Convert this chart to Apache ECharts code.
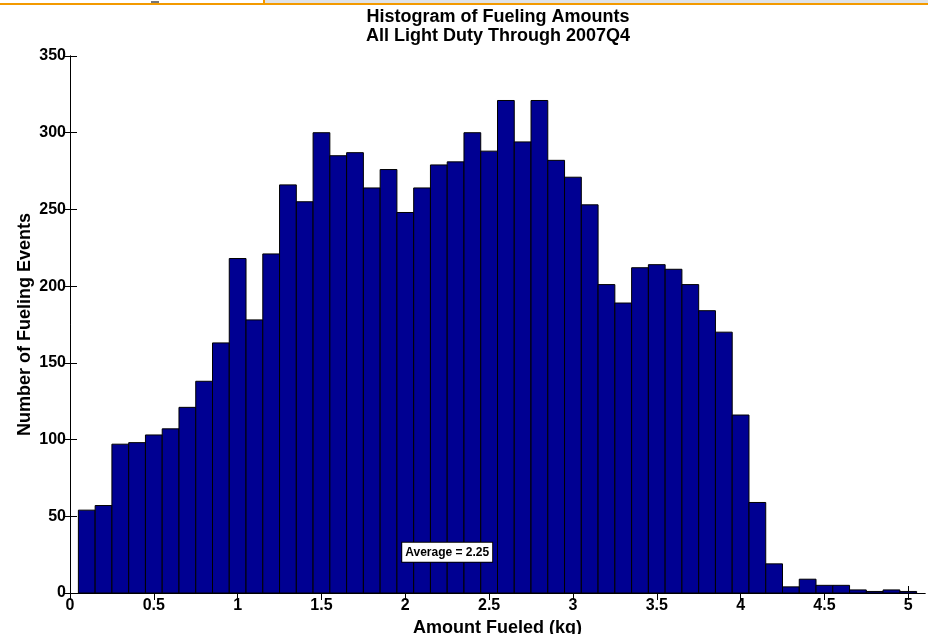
<!DOCTYPE html>
<html>
<head>
<meta charset="utf-8">
<script src="https://cdn.jsdelivr.net/npm/echarts@6/dist/echarts.min.js"></script>
<style>
html,body{margin:0;padding:0;background:#fff;}
#chart{width:928px;height:634px;}
</style>
</head>
<body>
<div id="chart"></div>
<script>
// ---- data ----
const binCenters = [0.1,0.2,0.3,0.4,0.5,0.6,0.7,0.8,0.9,1.0,
                    1.1,1.2,1.3,1.4,1.5,1.6,1.7,1.8,1.9,2.0,
                    2.1,2.2,2.3,2.4,2.5,2.6,2.7,2.8,2.9,3.0,
                    3.1,3.2,3.3,3.4,3.5,3.6,3.7,3.8,3.9,4.0,
                    4.1,4.2,4.3,4.4,4.5,4.6,4.7,4.8,4.9,5.0];
const counts = [54,57,97,98,103,107,121,138,163,218,
                178,221,266,255,300,285,287,264,276,248,
                264,279,281,300,288,321,294,321,282,271,
                253,201,189,212,214,211,201,184,170,116,
                59,19,4,9,5,5,2,1,2,1];
const binWidth = 0.1;
const xTicks = [0,0.5,1,1.5,2,2.5,3,3.5,4,4.5,5];
const xTickLabels = ['0','0.5','1','1.5','2','2.5','3','3.5','4','4.5','5'];
const yTicks = [0,50,100,150,200,250,300,350];
const averageValue = 2.25;
const averageLabelY = 26.5;
const titleText = 'Histogram of Fueling Amounts\nAll Light Duty Through 2007Q4';
const xName = 'Amount Fueled (kg)';
const yName = 'Number of Fueling Events';

// ---- chart ----
const FONT = '"Liberation Sans", Arial, Helvetica, sans-serif';
const chart = echarts.init(document.getElementById('chart'), null, {renderer:'canvas'});
const histData = binCenters.map((c,i)=>[c, counts[i]]);

const axisLineStyle = {show:true, lineStyle:{color:'#000', width:1}};
function tickStyle(extra){
  return Object.assign({show:true, inside:true, length:7, lineStyle:{color:'#000', width:1}}, extra||{});
}

const option = {
  animation:false,
  backgroundColor:'#fff',
  title:{
    text:titleText,
    left:493, top:3, textAlign:'center',
    textStyle:{fontFamily:FONT, fontSize:18, fontWeight:'bold', color:'#000', lineHeight:19}
  },
  grid:{left:70, right:3, top:56, bottom:41, containLabel:false, outerBoundsMode:'none'},
  xAxis:[{
    type:'value', min:0, max:5.1, position:'bottom',
    name:xName, nameLocation:'middle', nameGap:24,
    nameTextStyle:{fontFamily:FONT, fontSize:18, fontWeight:'bold', color:'#000'},
    axisLine:axisLineStyle,
    axisTick:tickStyle({customValues:xTicks}),
    axisLabel:{customValues:xTicks, formatter:v=>xTickLabels[xTicks.indexOf(+(+v).toFixed(2))] ?? String(v),
      fontFamily:FONT, fontSize:16, fontWeight:'bold', color:'#000', margin:5},
    splitLine:{show:false}
  },{
    type:'value', min:0, max:5.1, position:'top',
    axisLine:axisLineStyle,
    axisTick:tickStyle({customValues:xTicks}),
    axisLabel:{show:false},
    splitLine:{show:false}
  }],
  yAxis:[{
    type:'value', min:0, max:350, interval:50, position:'left',
    name:yName, nameLocation:'middle', nameGap:36, nameRotate:90, nameMoveOverlap:false,
    nameTextStyle:{fontFamily:FONT, fontSize:18, fontWeight:'bold', color:'#000'},
    axisLine:axisLineStyle,
    axisTick:tickStyle(),
    axisLabel:{customValues:yTicks, fontFamily:FONT, fontSize:16, fontWeight:'bold', color:'#000', margin:4},
    splitLine:{show:false}
  },{
    type:'value', min:0, max:350, interval:50, position:'right',
    axisLine:axisLineStyle,
    axisTick:tickStyle(),
    axisLabel:{show:false},
    splitLine:{show:false}
  }],
  series:[{
    type:'custom',
    xAxisIndex:0, yAxisIndex:0,
    data:histData,
    renderItem:function(params, api){
      const x = api.value(0), y = api.value(1);
      const p0 = api.coord([x - binWidth/2, y]);
      const p1 = api.coord([x + binWidth/2, 0]);
      return {
        type:'rect',
        shape:{x:p0[0], y:p0[1], width:p1[0]-p0[0], height:p1[1]-p0[1]},
        style:{fill:'#000092', stroke:'#000', lineWidth:1}
      };
    },
    z:2
  },{
    type:'scatter',
    xAxisIndex:0, yAxisIndex:0,
    data:[[averageValue, averageLabelY]],
    symbolSize:0,
    silent:true,
    z:5,
    itemStyle:{opacity:1},
    label:{
      show:true, position:'inside', opacity:1,
      formatter:'Average = ' + averageValue.toFixed(2),
      fontFamily:FONT, fontSize:12, fontWeight:'bold', color:'#000',
      backgroundColor:'#ffffff', borderColor:'#000', borderWidth:1,
      padding:[4,3,3,3]
    }
  }],
  graphic:[
    {type:'rect', shape:{x:264, y:0, width:664, height:3}, style:{fill:'#dfe3e8'}, z:100},
    {type:'rect', shape:{x:263, y:0, width:2, height:4}, style:{fill:'#f39a00'}, z:100},
    {type:'rect', shape:{x:151, y:1, width:8, height:2}, style:{fill:'#777'}, z:100},
    {type:'rect', shape:{x:0, y:3, width:928, height:2}, style:{fill:'#f39a00'}, z:100}
  ]
};
chart.setOption(option);
</script>
</body>
</html>
